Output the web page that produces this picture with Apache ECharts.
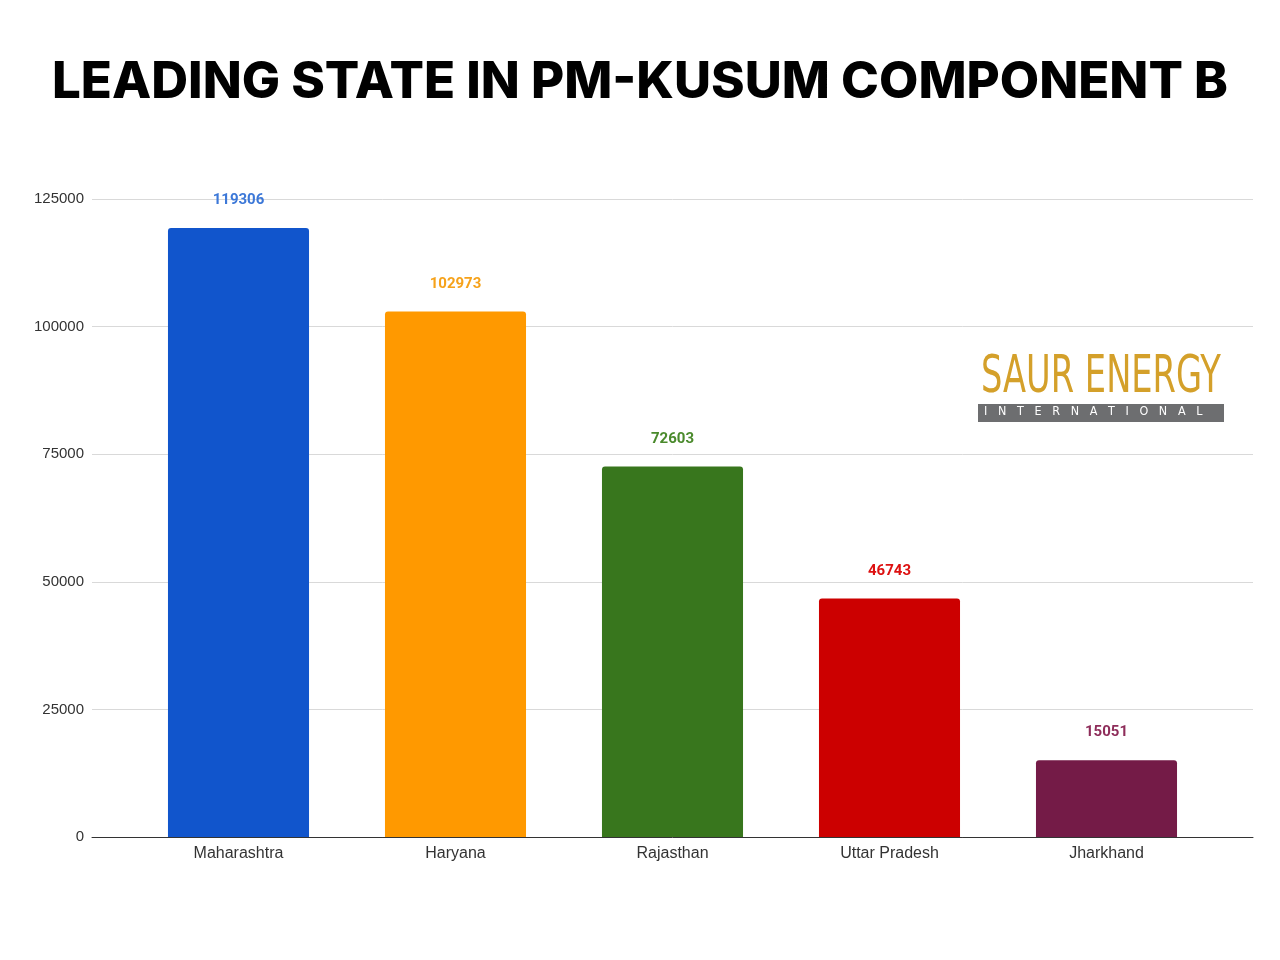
<!DOCTYPE html>
<html><head><meta charset="utf-8">
<script src="https://cdn.jsdelivr.net/npm/echarts@6/dist/echarts.min.js"></script>
<style>html,body{margin:0;padding:0;background:#fff}#c{width:1280px;height:960px}</style>
</head><body><div id="c"></div>
<script>
const categories = ['Maharashtra','Haryana','Rajasthan','Uttar Pradesh','Jharkhand'];
const values = [119306,102973,72603,46743,15051];
const colors = ['#1155cc','#ff9900','#38761d','#cc0000','#741b47'];
const labelColors = ['#3c78d8','#f6a21a','#4a8a2c','#dd1111','#8e2d5a'];
const yTicks = [0,25000,50000,75000,100000,125000];

const chart = echarts.init(document.getElementById('c'));
chart.setOption({
  animation:false,
  title:{text:'LEADING STATE IN PM-KUSUM COMPONENT B',left:'center',top:52,
    textStyle:{fontFamily:'Inter',fontWeight:800,fontSize:51,color:'#000'}},
  grid:[{left:92,right:27,top:199,bottom:123},{left:130,right:65,top:199,bottom:123}],
  xAxis:[{type:'category',gridIndex:0,data:[''],
    axisLine:{lineStyle:{color:'#333',width:1}},axisTick:{show:false},axisLabel:{show:false}},
    {type:'category',gridIndex:1,data:categories,
    axisLine:{show:false},axisTick:{show:false},
    axisLabel:{color:'#333',fontSize:16,fontFamily:'Liberation Sans',margin:9}}],
  yAxis:[{type:'value',gridIndex:0,min:yTicks[0],max:yTicks[yTicks.length-1],interval:25000,
    axisLine:{show:false},axisTick:{show:false},
    splitLine:{lineStyle:{color:'#d9d9d9'}},
    axisLabel:{color:'#333',fontSize:15,fontFamily:'Liberation Sans',margin:8,formatter:v=>String(v)}},
    {type:'value',gridIndex:1,min:yTicks[0],max:yTicks[yTicks.length-1],interval:25000,show:false,splitLine:{show:false}}],
  series:[{type:'bar',xAxisIndex:1,yAxisIndex:1,barWidth:'65%',
    data:values.map((v,i)=>({value:v,itemStyle:{color:colors[i],borderRadius:[3,3,0,0]},
      label:{color:labelColors[i]}})),
    label:{show:true,position:'top',distance:20,fontSize:15,fontWeight:'bold',fontFamily:'Roboto'}}],
  graphic:[
    {type:'text',x:981,y:352,scaleX:0.72,style:{text:'SAUR ENERGY',fill:'#d4a02a',
      font:'500 52px "DejaVu Sans Condensed","DejaVu Sans",sans-serif'}},
    {type:'rect',shape:{x:978,y:404,width:246,height:18},style:{fill:'#6d6e70'}},
    {type:'text',x:984,y:405,scaleX:0.86,style:{text:'I   N   T   E   R   N   A   T   I   O   N   A   L',fill:'#fff',
      font:'13px "DejaVu Sans"'}}
  ]
});
</script></body></html>
